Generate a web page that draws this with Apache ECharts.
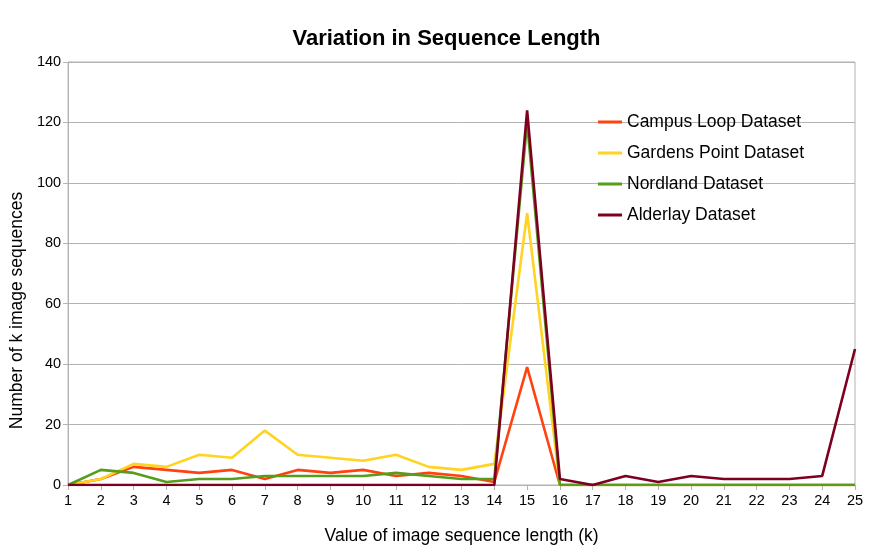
<!DOCTYPE html>
<html>
<head>
<meta charset="utf-8">
<script src="https://cdn.jsdelivr.net/npm/echarts@6/dist/echarts.min.js"></script>
<style>
  html, body { margin: 0; padding: 0; background: #fff; }
  #chart { width: 893px; height: 560px; }
</style>
</head>
<body>
<div id="chart"></div>
<script>
  var kValues = ["1","2","3","4","5","6","7","8","9","10","11","12","13","14","15","16","17","18","19","20","21","22","23","24","25"];
  var campusLoop = [0,2,6,5,4,5,2,5,4,5,3,4,3,1,39,0,0,0,0,0,0,0,0,0,0];
  var gardensPoint = [0,2,7,6,10,9,18,10,9,8,10,6,5,7,90,0,0,0,0,0,0,0,0,0,0];
  var nordland = [0,5,4,1,2,2,3,3,3,3,4,3,2,2,120,0,0,0,0,0,0,0,0,0,0];
  var alderlay = [0,0,0,0,0,0,0,0,0,0,0,0,0,0,124,2,0,3,1,3,2,2,2,3,45];

  var myChart = echarts.init(document.getElementById("chart"));

  function line(name, data, color) {
    return {
      name: name,
      type: "line",
      data: data,
      symbol: "none",
      lineStyle: { color: color, width: 2.6 },
      itemStyle: { color: color },
      animation: false
    };
  }

  var option = {
    backgroundColor: "#fff",
    textStyle: { fontFamily: "Liberation Sans" },
    title: {
      text: "Variation in Sequence Length",
      left: "center",
      top: 23,
      textStyle: { fontSize: 22, fontWeight: "bold", color: "#000", fontFamily: "Liberation Sans" }
    },
    legend: {
      orient: "vertical",
      left: 598,
      top: 113,
      padding: 0,
      itemGap: 13,
      itemWidth: 24,
      itemHeight: 3,
      icon: "rect",
      textStyle: { fontSize: 17.5, color: "#000" }
    },
    grid: {
      left: 68, right: 38, top: 62, bottom: 75,
      show: true, borderColor: "#b3b3b3", borderWidth: 1
    },
    xAxis: {
      type: "category",
      data: kValues,
      boundaryGap: false,
      name: "Value of image sequence length (k)",
      nameLocation: "middle",
      nameGap: 42,
      nameTextStyle: { fontSize: 17.5, color: "#000" },
      axisLine: { lineStyle: { color: "#b3b3b3" } },
      axisTick: { show: true, alignWithLabel: true, length: 5, lineStyle: { color: "#b3b3b3" } },
      axisLabel: { color: "#000", fontSize: 14.5, margin: 8, interval: 0 },
      splitLine: { show: false }
    },
    yAxis: {
      type: "value",
      min: 0,
      max: 140,
      interval: 20,
      name: "Number of k image sequences",
      nameLocation: "middle",
      nameGap: 42,
      nameTextStyle: { fontSize: 17.5, color: "#000", padding: [0, 74, 0, 0] },
      axisLine: { show: true, lineStyle: { color: "#b3b3b3" } },
      axisTick: { show: true, length: 5, lineStyle: { color: "#b3b3b3" } },
      axisLabel: { color: "#000", fontSize: 14.5, margin: 7 },
      splitLine: { lineStyle: { color: "#b3b3b3" } }
    },
    series: [
      line("Campus Loop Dataset", campusLoop, "#ff420e"),
      line("Gardens Point Dataset", gardensPoint, "#ffd320"),
      line("Nordland Dataset", nordland, "#579d1c"),
      line("Alderlay Dataset", alderlay, "#7e0021")
    ]
  };
  myChart.setOption(option);
</script>
</body>
</html>
